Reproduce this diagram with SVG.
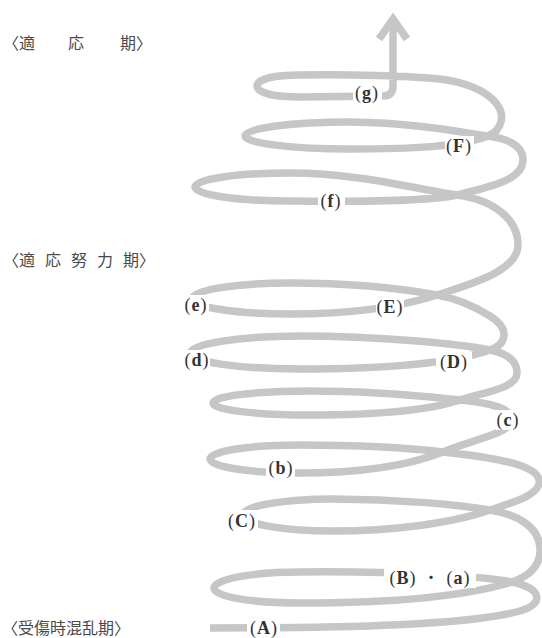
<svg xmlns="http://www.w3.org/2000/svg" width="542" height="638" viewBox="0 0 542 638">
<style>
.coil{fill:none;stroke:#c6c6c6;stroke-width:7.5;stroke-linecap:butt;stroke-linejoin:round}
.head{fill:none;stroke:#c6c6c6;stroke-width:7.5;stroke-linecap:butt;stroke-linejoin:miter}
.bg{fill:#ffffff}
.lbl{font-family:"Liberation Serif","Noto Serif CJK JP","Noto Sans CJK JP",serif;font-size:18px;fill:#333;text-anchor:middle;letter-spacing:1px}
.lbl .b{font-weight:bold}
.ph{font-family:"Noto Sans CJK JP","Noto Sans",sans-serif;font-size:16px;fill:#4a4a4a}
</style>
<rect width="542" height="638" fill="#ffffff"/>
<g id="connectors">
<path id="spiral" class="coil" d="M 210 628 C 350 628, 470 625, 520 611 C 545 604, 542 588, 512 582 C 482 576, 400 571, 300 572 C 253 572, 214 579, 214 588 C 214 597, 253 603, 300 603 C 380 603, 460 598, 512 582 C 530 576, 541 565, 540 548 C 539 528, 520 515, 490 510 C 460 505, 400 499, 333 499 C 283 499, 243 506, 243 515 C 243 524, 283 531, 333 531 C 390 531, 450 524, 490 510 C 510 503, 535 497, 539 484 C 542 470, 520 460, 443 452 C 410 448, 360 445, 300 445 C 250 445, 210 451, 210 459 C 210 467, 250 473, 300 473 C 360 473, 410 465, 443 452 C 475 439, 512 433, 512 420 C 512 408, 490 403, 460 400 C 430 397, 380 391, 310 391 C 257 391, 213 396, 213 403 C 213 410, 257 415, 310 415 C 380 415, 430 410, 460 400 C 485 392, 517 388, 517 373 C 517 360, 505 353, 490 350 C 460 344, 380 336, 300 336 C 240 336, 190 344, 190 353 C 190 362, 240 369, 300 369 C 380 369, 450 364, 490 350 C 505 345, 512 330, 490 316 C 472 305, 455 298, 437 295 C 410 290, 360 283, 290 283 C 236 283, 192 290, 192 299 C 192 307, 236 314, 290 314 C 350 314, 400 307, 437 295 C 475 283, 518 270, 518 245 C 518 220, 495 200, 457 195 C 420 190, 360 173, 290 173 C 238 173, 195 179, 195 187 C 195 195, 238 201, 290 201 C 370 202, 430 201, 457 195 C 490 187, 523 180, 523 160 C 523 147, 510 139, 488 136 C 465 133, 420 123, 350 122 C 292 122, 245 128, 245 136 C 245 143, 292 149, 350 149 C 410 149, 460 147, 488 136 C 502 130, 506 115, 496 103 C 486 91, 470 83, 440 79 C 410 76, 350 74, 300 75 C 275 75, 257 79, 257 86 C 257 93, 275 97, 300 97 L 383 96 Q 393 96, 393 86 L 393 20"/>
<polyline id="arrowhead" class="head" points="379,39 393,19 407,39"/>
</g>
<g id="node-A"><rect class="bg" x="247" y="618" width="33" height="20"/><text class="lbl" x="264" y="634">(<tspan class="b">A</tspan>)</text></g>
<g id="node-Ba"><rect class="bg" x="384" y="567" width="92" height="21"/><text class="lbl" x="430" y="584">(<tspan class="b">B</tspan>) ・ (<tspan class="b">a</tspan>)</text></g>
<g id="node-C"><rect class="bg" x="227" y="510" width="31" height="21"/><text class="lbl" x="242" y="527">(<tspan class="b">C</tspan>)</text></g>
<g id="node-b"><rect class="bg" x="266" y="458" width="29" height="21"/><text class="lbl" x="281" y="474">(<tspan class="b">b</tspan>)</text></g>
<g id="node-c"><rect class="bg" x="496" y="410" width="24" height="20"/><text class="lbl" x="508" y="426">(<tspan class="b">c</tspan>)</text></g>
<g id="node-d"><rect class="bg" x="183" y="350" width="27" height="20"/><text class="lbl" x="197" y="366">(<tspan class="b">d</tspan>)</text></g>
<g id="node-D"><rect class="bg" x="436" y="352" width="36" height="20"/><text class="lbl" x="454" y="368">(<tspan class="b">D</tspan>)</text></g>
<g id="node-e"><rect class="bg" x="183" y="295" width="26" height="20"/><text class="lbl" x="196" y="311">(<tspan class="b">e</tspan>)</text></g>
<g id="node-E"><rect class="bg" x="376" y="297" width="28" height="20"/><text class="lbl" x="390" y="313">(<tspan class="b">E</tspan>)</text></g>
<g id="node-f"><rect class="bg" x="318" y="191" width="27" height="21"/><text class="lbl" x="331" y="207">(<tspan class="b">f</tspan>)</text></g>
<g id="node-F"><rect class="bg" x="445" y="136" width="29" height="20"/><text class="lbl" x="459" y="152">(<tspan class="b">F</tspan>)</text></g>
<g id="node-g"><rect class="bg" x="353" y="84" width="29" height="21"/><text class="lbl" x="367" y="99">(<tspan class="b">g</tspan>)</text></g>
<g id="phase-adapt"><text class="ph" x="3 19 68 120 136" y="49">〈適応期〉</text></g>
<g id="phase-effort"><text class="ph" x="3 19 45 71 97 123 139" y="266">〈適応努力期〉</text></g>
<g id="phase-confusion"><text class="ph" x="2" y="634">〈受傷時混乱期〉</text></g>
</svg>
